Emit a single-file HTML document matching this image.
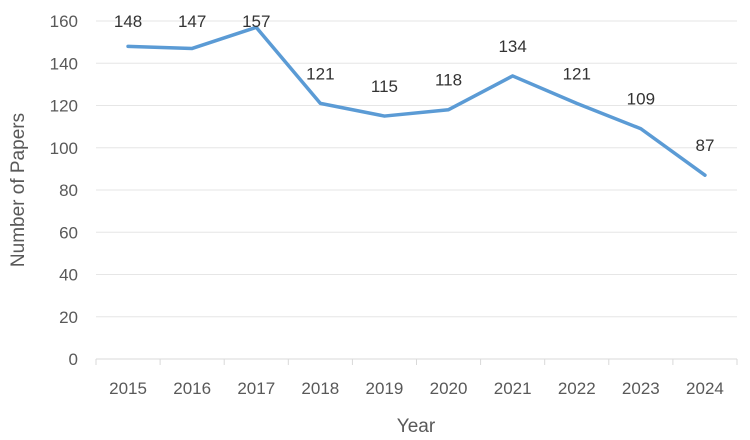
<!DOCTYPE html>
<html><head><meta charset="utf-8"><style>body{margin:0;background:#fff}svg{display:block;font-family:"Liberation Sans",Arial,sans-serif}</style></head>
<body>
<svg id="chart" width="750" height="440" viewBox="0 0 750 440"></svg>
<script>
const years = ["2015","2016","2017","2018","2019","2020","2021","2022","2023","2024"];
const papers = [148,147,157,121,115,118,134,121,109,87];
const yTicks = [0,20,40,60,80,100,120,140,160];
const svg = document.getElementById('chart');
const NS = 'http://www.w3.org/2000/svg';
const left = 96, right = 737, y0 = 359, y1 = 21, yMax = 160;
const step = (right-left)/years.length;
const xs = i => left + step*(i+0.5);
const ys = v => y0 - (v/yMax)*(y0-y1);
function mk(tag, attrs, txt){const e=document.createElementNS(NS,tag);for(const k in attrs)e.setAttribute(k,attrs[k]);if(txt!==undefined)e.textContent=txt;svg.appendChild(e);return e;}
yTicks.forEach(t=>{
  const g = mk('line',{x1:left,x2:right,y1:ys(t),y2:ys(t),stroke:t===0?'#d9d9d9':'#e6e6e6','stroke-width':1});
  
  
  const l = mk('text',{x:78,y:ys(t)+6,'text-anchor':'end','font-size':17,fill:'#595959'},t);
  
  
});
for(let i=0;i<=years.length;i++){
  const tk = mk('line',{x1:left+step*i,x2:left+step*i,y1:y0,y2:y0+6,stroke:'#d9d9d9','stroke-width':1});
  
  
}
years.forEach((yr,i)=>{
  const l = mk('text',{x:xs(i),y:394,'text-anchor':'middle','font-size':17,fill:'#595959'},yr);
  
  
});
const pts = papers.map((v,i)=>xs(i)+','+ys(v)).join(' ');
const line = mk('polyline',{points:pts,fill:'none',stroke:'#5b9bd5','stroke-width':3.5,'stroke-linejoin':'round','stroke-linecap':'round'});


papers.forEach((v,i)=>{
  const ly = Math.max(27, ys(v)-24);
  const l = mk('text',{x:xs(i),y:ly,'text-anchor':'middle','font-size':17,fill:'#333333'},v);
  
  
});
const xt = mk('text',{x:416,y:432,'text-anchor':'middle','font-size':19,fill:'#595959'},'Year');


const yt = mk('text',{x:0,y:0,'text-anchor':'middle','font-size':19,fill:'#595959',transform:'translate(24,190) rotate(-90)'},'Number of Papers');


</script>
</body></html>
